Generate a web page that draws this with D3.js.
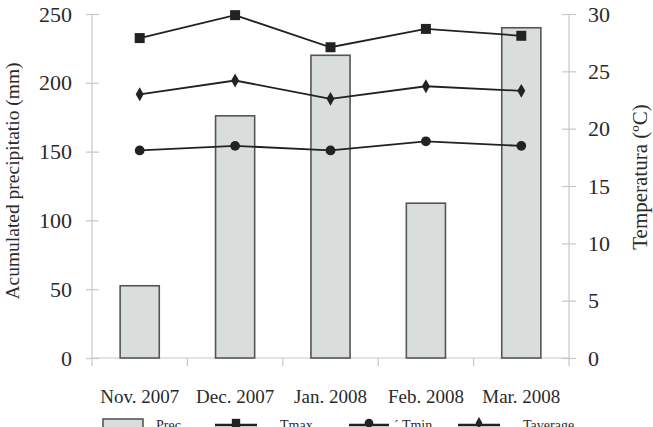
<!DOCTYPE html>
<meta charset="utf-8">
<head>
<style>
  body { margin: 0; background: #fff; }
  svg { display: block; }
  text { font-family: "Liberation Serif", "Times New Roman", serif; fill: #2a2a2a; }
  .ax path, .ax line { stroke: #c8c8c8; stroke-width: 1.2; }
  .tick text { font-size: 22px; }
  .xax .tick text { font-size: 19px; }
  .bar { fill: #d9dedc; stroke: #555; stroke-width: 1.6; }
  .ln { fill: none; stroke: #222; stroke-width: 1.8; }
  .lg { font-size: 14px; }
</style>
</head>
<body>
<svg id="chart" width="653" height="427"></svg>
<script src="https://d3js.org/d3.v7.min.js"></script>
<script>

  var months = ["Nov. 2007", "Dec. 2007", "Jan. 2008", "Feb. 2008", "Mar. 2008"];
  var prec = [52.5, 176, 220, 112.5, 240];
  var tmax = [27.9, 29.9, 27.1, 28.7, 28.1];
  var taverage = [23.0, 24.2, 22.6, 23.7, 23.3];
  var tmin = [18.1, 18.5, 18.1, 18.9, 18.5];
  var precTicks = [0, 50, 100, 150, 200, 250];
  var tempTicks = [0, 5, 10, 15, 20, 25, 30];

  var L = 92, R = 569, T = 14, B = 358;
  var svg = d3.select("#chart");

  var x = d3.scaleBand().domain(months).range([L, R]);
  var yP = d3.scaleLinear().domain([0, 250]).range([B, T]);
  var yT = d3.scaleLinear().domain([0, 30]).range([B, T]);

  // axes
  var gx = svg.append("g").attr("class", "ax xax").attr("transform", "translate(0," + B + ")")
    .call(d3.axisBottom(x).tickSize(0).tickPadding(32));
  gx.select(".domain").attr("d", "M" + L + ",0H" + R);
  // category separators
  gx.selectAll(".sep").data(d3.range(months.length + 1)).enter().append("line")
    .attr("x1", function (i) { return L + i * x.step(); })
    .attr("x2", function (i) { return L + i * x.step(); })
    .attr("y1", 0).attr("y2", 8)
    .style("stroke", "#c8c8c8").style("stroke-width", 1.2);

  var gl = svg.append("g").attr("class", "ax").attr("transform", "translate(" + L + ",0)")
    .call(d3.axisLeft(yP).tickValues(precTicks).tickSize(6).tickPadding(14));
  gl.selectAll(".tick line").attr("x2", 7).attr("x1", -6);
  gl.select(".domain").attr("d", "M0," + T + "V" + B);

  var gr = svg.append("g").attr("class", "ax").attr("transform", "translate(" + R + ",0)")
    .call(d3.axisRight(yT).tickValues(tempTicks).tickSize(7).tickPadding(12));
  gr.selectAll(".tick line").attr("x1", -7).attr("x2", 7);
  gr.select(".domain").attr("d", "M0," + T + "V" + B);

  // bars
  var bw = x.bandwidth() * 0.41;
  svg.selectAll(".bar").data(prec).enter().append("rect")
    .attr("class", "bar")
    .attr("x", function (d, i) { return x(months[i]) + x.bandwidth() / 2 - bw / 2; })
    .attr("y", function (d) { return yP(d); })
    .attr("width", bw)
    .attr("height", function (d) { return B - yP(d); });

  var cx = function (d, i) { return x(months[i]) + x.bandwidth() / 2; };
  var line = d3.line().x(cx).y(function (d) { return yT(d); });

  var series = [
    { vals: tmax, sym: d3.symbolSquare, size: 100 },
    { vals: taverage, sym: d3.symbolDiamond, size: 55 },
    { vals: tmin, sym: d3.symbolCircle, size: 75 }
  ];
  series.forEach(function (s) {
    svg.append("path").attr("class", "ln").attr("d", line(s.vals));
    svg.selectAll(null).data(s.vals).enter().append("path")
      .attr("d", d3.symbol().type(s.sym).size(s.size))
      .attr("transform", function (d, i) { return "translate(" + cx(d, i) + "," + yT(d) + ")"; })
      .style("fill", "#222");
  });

  // axis titles
  svg.append("text").attr("transform", "translate(19,181) rotate(-90)")
    .attr("text-anchor", "middle").style("font-size", "19.5px")
    .text("Acumulated precipitatio (mm)");
  svg.append("text").attr("transform", "translate(647,177) rotate(-90)")
    .attr("text-anchor", "middle").style("font-size", "21px")
    .text("Temperatura (ºC)");

  // legend
  var ly = 425;
  svg.append("rect").attr("class", "bar").attr("x", 103).attr("y", 419).attr("width", 40).attr("height", 16);
  svg.append("text").attr("class", "lg").attr("x", 156).attr("y", 430).text("Prec");
  var lgItems = [
    { x0: 215, x1: 257, sym: d3.symbolSquare, size: 70, label: "Tmax", lx: 280 },
    { x0: 349, x1: 389, sym: d3.symbolCircle, size: 60, label: "´ Tmin", lx: 394 },
    { x0: 458, x1: 500, sym: d3.symbolDiamond, size: 40, label: "Taverage", lx: 523 }
  ];
  lgItems.forEach(function (it) {
    svg.append("line").attr("x1", it.x0).attr("x2", it.x1).attr("y1", ly).attr("y2", ly)
      .style("stroke", "#222").style("stroke-width", 2.5);
    svg.append("path").attr("d", d3.symbol().type(it.sym).size(it.size)())
      .attr("transform", "translate(" + (it.x0 + it.x1) / 2 + "," + (ly - 2) + ")").style("fill", "#222");
    svg.append("text").attr("class", "lg").attr("x", it.lx).attr("y", 430).text(it.label);
  });

</script>
</body>
